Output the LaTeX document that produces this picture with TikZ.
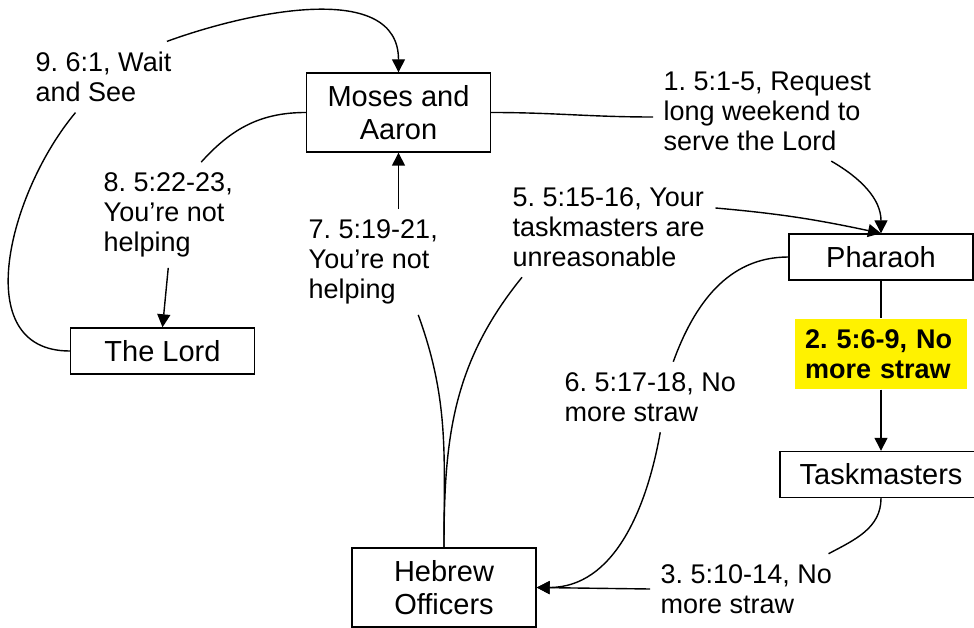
\documentclass[tikz,border=0pt]{standalone}
\usepackage{fontspec}
\setmainfont{Liberation Sans}
\usetikzlibrary{arrows.meta}
\frenchspacing

\begin{document}
\begin{tikzpicture}[x=1pt,y=1pt,line width=1.4pt,>={Triangle[length=13pt,width=13pt]}]
  \tikzset{ box/.style={draw,align=center,minimum width=184pt,minimum height=46pt,inner sep=0pt,font=\fontsize{29pt}{33pt}\selectfont},
    lbl/.style={align=left,anchor=west,inner sep=10pt,font=\fontsize{27pt}{30pt}\selectfont},
  }
  \useasboundingbox (0,0) rectangle (974,-628);

  \node[box,minimum height=79pt] (M) at (398.5,-112.5) {Moses and\\Aaron};
  \node[box] (P) at (881,-257) {Pharaoh};
  \node[box,minimum width=202pt] (T) at (881,-474.5) {Taskmasters};
  \node[box] (L) at (162.5,-351) {The Lord};
  \node[box,minimum height=79pt] (H) at (444,-587.5) {Hebrew\\Officers};

  \node[lbl] (l1) at (653,-111) {1. 5:1-5, Request\\long weekend to\\serve the Lord};
  \node[lbl,anchor=center,fill=yellow,text width=152pt,minimum height=70pt,font=\fontsize{27pt}{30pt}\selectfont\bfseries] (l2) at (881,-354) {2. 5:6-9, No\\more straw};
  \node[lbl] (l3) at (650,-589) {3. 5:10-14, No\\more straw};
  \node[lbl] (l5) at (502,-227) {5. 5:15-16, Your\\taskmasters are\\unreasonable};
  \node[lbl] (l6) at (554,-397) {6. 5:17-18, No\\more straw};
  \node[lbl] (l7) at (298,-262) {7. 5:19-21,\\You’re not\\helping};
  \node[lbl] (l8) at (93,-215) {8. 5:22-23,\\You’re not\\helping};
  \node[lbl] (l9) at (25,-77) {9. 6:1, Wait\\and See};

  % 1
  \draw (M.east) to[out=0,in=180] ([yshift=-6pt]l1.west);
  \draw[->] ([xshift=64pt]l1.south) to[out=-30,in=90] (P.north);
  % 2
  \draw (P.south) -- (l2.north);
  \draw[->] (l2.south) -- (T.north);
  % 3
  \draw (T.south) to[out=-90,in=28] ([xshift=-14pt]l3.north east);
  \draw[->] (l3.west) -- (H.east);
  % 5
  \draw (H.north) to[out=90,in=-129] ([xshift=20pt]l5.south west);
  \draw[->] ([yshift=19pt]l5.east) to[out=-5,in=168] (P.north);
  % 6
  \draw (P.west) to[out=180,in=70] ([xshift=23pt]l6.north);
  \draw[->] ([xshift=10pt]l6.south) to[out=-100,in=0] (H.east);
  % 7
  \draw (H.north) to[out=90,in=-70] ([xshift=45pt]l7.south);
  \draw[->] (l7.north -| M.south) -- (M.south);
  % 8
  \draw (M.west) to[out=180,in=48] ([xshift=33pt]l8.north);
  \draw[->] (l8.south) -- (L.north);
  % 9
  \draw (L.west) to[out=180,in=-130,looseness=1.1] ([xshift=-28pt]l9.south);
  \draw[->] ([xshift=-15pt]l9.north east) to[out=20,in=90] (M.north);
\end{tikzpicture}
\end{document}
